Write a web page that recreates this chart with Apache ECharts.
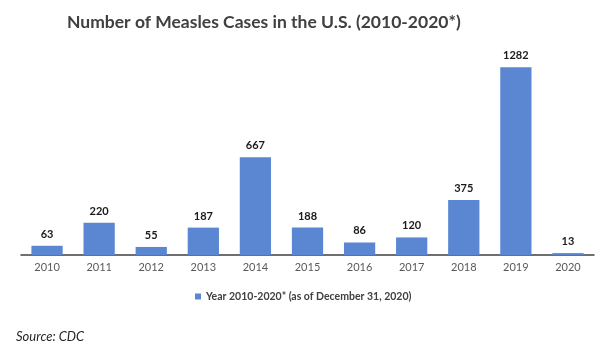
<!DOCTYPE html>
<html>
<head>
<meta charset="utf-8">
<script src="https://cdn.jsdelivr.net/npm/echarts@6/dist/echarts.min.js"></script>
<style>
  html, body { margin: 0; padding: 0; background: #ffffff; }
  #chart { width: 600px; height: 342px; }
</style>
</head>
<body>
<div id="chart"></div>
<script>
// Reported measles cases per year in the U.S.
const years = ['2010', '2011', '2012', '2013', '2014', '2015', '2016', '2017', '2018', '2019', '2020'];
const cases = [63, 220, 55, 187, 667, 188, 86, 120, 375, 1282, 13];
const seriesName = 'Year 2010-2020* (as of December 31, 2020)';

const chart = echarts.init(document.getElementById('chart'), null, { renderer: 'canvas' });

chart.setOption({
  animation: false,
  backgroundColor: '#ffffff',
  title: [
    {
      text: 'Number of Measles Cases in the U.S. (2010-2020*)',
      left: 62,
      top: 8,
      textStyle: { fontFamily: 'Lato', fontSize: 17.5, fontWeight: 'bold', color: '#404040' }
    },
    {
      text: 'Source: CDC',
      left: 11,
      top: 325,
      textStyle: { fontFamily: 'Lato', fontSize: 13, fontStyle: 'italic', fontWeight: 'normal', color: '#262626' }
    }
  ],
  legend: {
    data: [seriesName],
    left: 190,
    top: 286,
    itemWidth: 6,
    itemHeight: 6,
    itemGap: 3,
    icon: 'rect',
    textStyle: { fontFamily: 'Lato', fontSize: 10.5, fontWeight: 'bold', color: '#404040' }
  },
  grid: { left: 21, right: 6, top: 50, bottom: 87 },
  xAxis: {
    type: 'category',
    data: years,
    axisLine: { lineStyle: { color: '#404040', width: 1.5 } },
    axisTick: { show: false },
    axisLabel: { fontFamily: 'Lato', fontSize: 11, color: '#595959', margin: 7 }
  },
  yAxis: {
    type: 'value',
    min: 0,
    max: 1400,
    show: false,
    splitLine: { show: false }
  },
  series: [{
    name: seriesName,
    type: 'bar',
    data: cases,
    barWidth: '60%',
    itemStyle: { color: '#5B86D1' },
    label: {
      show: true,
      position: 'top',
      distance: 6,
      fontFamily: 'Lato',
      fontSize: 11,
      fontWeight: 'bold',
      color: '#1a1a1a'
    }
  }]
});
</script>
</body>
</html>
